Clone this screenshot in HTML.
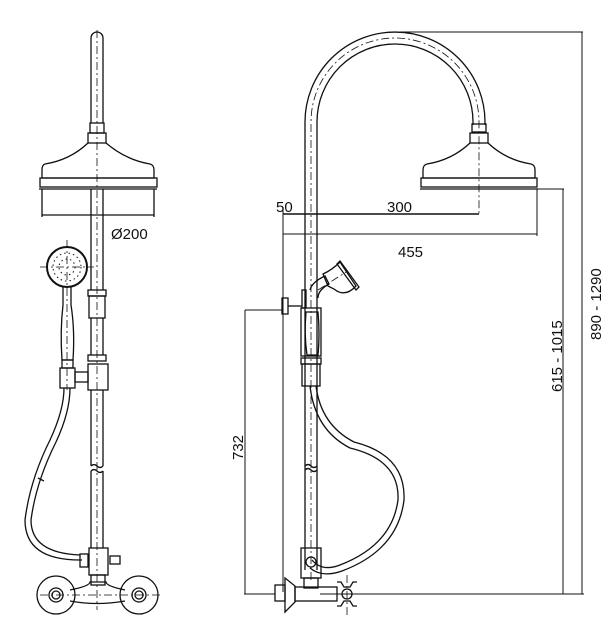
<!DOCTYPE html>
<html><head><meta charset="utf-8"><style>
html,body{margin:0;padding:0;background:#fff;}
svg{display:block;}
text{font-family:"Liberation Sans","DejaVu Sans",sans-serif;font-size:15px;fill:#111;}
</style></head><body>
<svg width="613" height="632" viewBox="0 0 613 632" xmlns="http://www.w3.org/2000/svg">
<g fill="none" stroke="#111" stroke-width="1.3">
<!-- ===== LEFT VIEW ===== -->
<path d="M91 123 V38 A6 6 0 0 1 103 38 V123"/>
<rect x="90" y="123" width="14" height="10"/>
<rect x="88" y="133" width="18" height="10"/>
<path d="M88 143 Q70 160 45 164 Q42 165 42 170 V178 H154 V170 Q154 165 150 164 Q126 160 106 143"/>
<rect x="40" y="178" width="117" height="9"/>
<line x1="39" y1="189" x2="157" y2="189"/>
<line x1="42" y1="189" x2="42" y2="217"/><line x1="154" y1="189" x2="154" y2="217"/>
<line x1="42" y1="215" x2="154" y2="215"/>
<line x1="91" y1="189" x2="91" y2="290"/><line x1="103" y1="189" x2="103" y2="290"/>
<rect x="88" y="290" width="18" height="6"/>
<rect x="89" y="296" width="16" height="22"/>
<line x1="91" y1="318" x2="91" y2="355"/><line x1="103" y1="318" x2="103" y2="355"/>
<rect x="88" y="355" width="18" height="6"/>
<rect x="88" y="364" width="20" height="26"/>
<line x1="91" y1="390" x2="91" y2="466"/><line x1="103" y1="390" x2="103" y2="466"/>
<path d="M91 466 q3 -3 6 0 q3 3 6 0 M91 471 q3 -3 6 0 q3 3 6 0"/>
<line x1="91" y1="471" x2="91" y2="548"/><line x1="103" y1="471" x2="103" y2="548"/>
<circle cx="67" cy="267" r="20" stroke-width="2"/>
<circle cx="67" cy="267" r="14" stroke-width="1" stroke-dasharray="1.5 3"/>
<circle cx="67" cy="267" r="8" stroke-width="1" stroke-dasharray="1.5 3"/>
<path d="M63 287 V305 Q60 330 62 360 H73 Q75 330 71 305 V287"/>
<rect x="62" y="360" width="11" height="8"/>
<rect x="60" y="368" width="15" height="20"/>
<rect x="75" y="372" width="13" height="10"/>
<path d="M64 388 Q64 410 50 440 Q30 480 25 520 Q25 560 80 560 L82 560"/>
<path d="M70 388 Q70 412 56 442 Q36 482 31 520 Q31 553 80 555"/>
<line x1="38" y1="478" x2="44" y2="481"/>
<rect x="80" y="554" width="8" height="13"/>
<rect x="89" y="548" width="19" height="27"/>
<rect x="110" y="556" width="10" height="8"/>
<rect x="91" y="575" width="14" height="10"/>
<path d="M70 590 Q90 586 90 582 H106 Q106 586 125 590 M70 601 Q97 606 125 601"/>
<circle cx="56" cy="595" r="19"/><circle cx="139" cy="595" r="19"/>
<circle cx="56" cy="595" r="7"/><circle cx="139" cy="595" r="7"/>
<circle cx="56" cy="595" r="4"/><circle cx="139" cy="595" r="4"/>
<!-- ===== RIGHT VIEW ===== -->
<path d="M305 570 V122 A90 90 0 0 1 485 122 V125"/>
<path d="M317 570 V122 A78 78 0 0 1 473 122 V125"/>
<rect x="472" y="124" width="14" height="8"/>
<rect x="470" y="133" width="18" height="10"/>
<path d="M470 143 Q452 160 427 164 Q423 165 423 170 V178 H535 V170 Q535 165 531 164 Q506 160 488 143"/>
<rect x="421" y="178" width="116" height="9"/>
<line x1="420" y1="189" x2="538" y2="189"/>
<path d="M305 466 q3 -3 6 0 q3 3 6 0 M305 470 q3 -3 6 0 q3 3 6 0"/>
<!-- holder + hand shower side -->
<rect x="302" y="290" width="4" height="18"/>
<rect x="301" y="308" width="20" height="48"/>
<path d="M306 312 Q304 335 307 355 H318 Q320 335 318 312 Z"/>
<path d="M310 290 Q312 282 325 276 L329 284 Q318 290 318 298"/>
<path d="M323 274 L328 286 L334 289 Q345 298 356 286 L340 262 Q332 270 323 274 Z"/>
<path d="M340 261 L359 287 L356 290 L337 264 Z"/>
<rect x="282" y="298" width="6" height="16"/>
<line x1="288" y1="306" x2="302" y2="306"/>
<rect x="301" y="358" width="20" height="6"/>
<rect x="302" y="364" width="18" height="22"/>
<path d="M310 386 Q315 430 350 448 Q400 460 398 500 Q392 545 340 565 Q322 572 312 560"/>
<path d="M316 386 Q321 425 354 442 Q406 455 404 500 Q398 550 342 571 Q322 578 310 568"/>
<rect x="301" y="548" width="20" height="30"/>
<circle cx="311" cy="562" r="5"/>
<rect x="304" y="578" width="14" height="10"/>
<rect x="275" y="585" width="10" height="16"/>
<path d="M285 578 L295 586 V602 L285 612 Z"/>
<rect x="295" y="587" width="42" height="14"/>
<path d="M337 582 h4 l3 5 h6 l3 -5 h4 M337 606 h4 l3 -5 h6 l3 5 h4"/>
<circle cx="347" cy="594" r="5"/>
</g>
<g fill="none" stroke="#111" stroke-width="0.8" stroke-dasharray="8 3 2 3">
<line x1="97" y1="30" x2="97" y2="610"/>
<line x1="67" y1="240" x2="67" y2="390"/>
<line x1="40" y1="595" x2="160" y2="595"/>
<line x1="40" y1="267" x2="94" y2="267"/>
<path d="M311 580 V122 A84 84 0 0 1 479 122 V215"/>
<line x1="347" y1="575" x2="347" y2="615"/>
<line x1="318" y1="290" x2="346" y2="272"/>
</g>
<g fill="none" stroke="#111" stroke-width="1">
<line x1="400" y1="32" x2="583" y2="32"/>
<line x1="582" y1="32" x2="582" y2="594"/>
<line x1="538" y1="189" x2="564" y2="189"/>
<line x1="563" y1="189" x2="563" y2="594"/>
<line x1="320" y1="594" x2="584" y2="594"/>
<line x1="244" y1="594" x2="275" y2="594"/>
<line x1="245" y1="310" x2="245" y2="594"/>
<line x1="245" y1="310" x2="282" y2="310"/>
<line x1="283" y1="210" x2="283" y2="592"/>
<line x1="283" y1="214" x2="479" y2="214" stroke-width="1.6"/>
<line x1="283" y1="234" x2="537" y2="234"/>
<line x1="537" y1="189" x2="537" y2="236"/>
</g>
<text x="111" y="239">Ø200</text>
<text x="276" y="212">50</text>
<text x="387" y="212">300</text>
<text x="398" y="257">455</text>
<text transform="translate(243,460) rotate(-90)">732</text>
<text transform="translate(562,392) rotate(-90)">615 - 1015</text>
<text transform="translate(601,340) rotate(-90)">890 - 1290</text>
</svg>
</body></html>
